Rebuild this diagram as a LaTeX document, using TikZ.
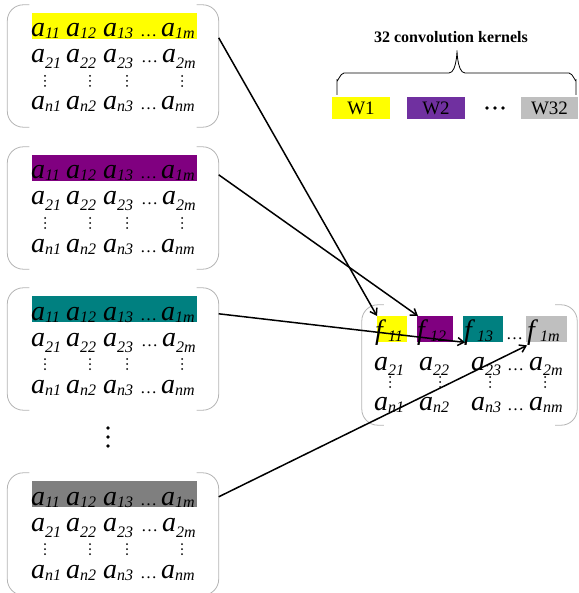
\documentclass[tikz,border=0pt]{standalone}
\usepackage{fontspec}
\setmainfont{Liberation Serif}
\usetikzlibrary{arrows.meta,calc}
\definecolor{cyel}{HTML}{FFFF00}
\definecolor{cpur}{HTML}{800080}
\definecolor{ctea}{HTML}{008080}
\definecolor{cgry}{HTML}{7F7F7F}
\definecolor{clgr}{HTML}{BFBFBF}
\definecolor{cwpu}{HTML}{7030A0}
\definecolor{cbrk}{HTML}{B4B4B4}
\newcommand{\mel}[3]{{\fontsize{28}{28}\selectfont\itshape #1}\raisebox{-#3}{\fontsize{16}{16}\selectfont\itshape #2}}
\newcommand{\hdots}{{\fontsize{17}{17}\selectfont\ldots}}
\begin{document}
\begin{tikzpicture}[x=1pt,y=-1pt,
  boxnode/.style={rectangle, inner sep=0pt, minimum width=211pt, minimum height=122pt},
  hl/.style={rectangle, inner sep=0pt, minimum width=165pt, minimum height=26pt},
  ent/.style={anchor=base west, inner sep=0pt, outer sep=0pt},
  brk/.style={draw=cbrk, line width=0.8pt, rounded corners=16pt},
  vdot/.style={circle, fill=black, inner sep=0pt, minimum size=2pt},
  conn/.style={draw, line width=1.5pt, -{Straight Barb[length=6pt,width=8pt]}},
  kbox/.style={rectangle, inner sep=0pt, minimum width=58pt, minimum height=22pt, font=\fontsize{19}{19}\selectfont},
  fbox/.style={rectangle, inner sep=0pt, minimum height=26pt, anchor=north west}]
\useasboundingbox (0,0) rectangle (578,593);

% left matrices
\foreach \T/\C/\n in {5/cyel/1,147/cpur/2,288/ctea/3,473/cgry/4}{
  \node[boxnode] (m\n) at (113,\T+61) {};
  \draw[brk] ([xshift=22pt]m\n.north west) -- (m\n.north west) -- (m\n.south west) -- ([xshift=22pt]m\n.south west);
  \draw[brk] ([xshift=-22pt]m\n.north east) -- (m\n.north east) -- (m\n.south east) -- ([xshift=-22pt]m\n.south east);
  \node[hl, fill=\C] (h\n) at (114.5,\T+21) {};
  % row 1
  \node[ent] (a\n-11) at (31,\T+32) {\mel{a}{11}{2pt}};
  \node[ent] (a\n-12) at (66,\T+32) {\mel{a}{12}{2pt}};
  \node[ent] (a\n-13) at (103,\T+32) {\mel{a}{13}{2pt}};
  \node[ent] (d\n-1) at (140,\T+32) {\hdots};
  \node[ent] (a\n-1m) at (161,\T+32) {\mel{a}{1m}{2pt}};
  % row 2
  \node[ent] (a\n-21) at (31,\T+58) {\mel{a}{21}{6pt}};
  \node[ent] (a\n-22) at (66,\T+58) {\mel{a}{22}{6pt}};
  \node[ent] (a\n-23) at (103,\T+58) {\mel{a}{23}{6pt}};
  \node[ent] (d\n-2) at (141,\T+58) {\hdots};
  \node[ent] (a\n-2m) at (162,\T+58) {\mel{a}{2m}{6pt}};
  % vertical dots
  \foreach \x/\k in {45/1,90/2,127/3,182/4}{
    \node[vdot] (v\n-\k a) at (\x,\T+71) {};
    \node[vdot] (v\n-\k b) at (\x,\T+76) {};
    \node[vdot] (v\n-\k c) at (\x,\T+81) {};
  }
  % row n
  \node[ent] (a\n-n1) at (31,\T+105) {\mel{a}{n1}{2pt}};
  \node[ent] (a\n-n2) at (66,\T+105) {\mel{a}{n2}{2pt}};
  \node[ent] (a\n-n3) at (103,\T+105) {\mel{a}{n3}{2pt}};
  \node[ent] (d\n-n) at (140,\T+105) {\hdots};
  \node[ent] (a\n-nm) at (161,\T+105) {\mel{a}{nm}{2pt}};
}

% big vertical dots between matrices
\node[circle, fill=black, inner sep=0pt, minimum size=3.8pt] (bd1) at (108,428) {};
\node[circle, fill=black, inner sep=0pt, minimum size=3.8pt] (bd2) at (108,437) {};
\node[circle, fill=black, inner sep=0pt, minimum size=3.8pt] (bd3) at (108,446) {};

% kernels
\node[font=\bfseries\fontsize{16}{16}\selectfont] (lab) at (451,37) {32 convolution kernels};
\draw[line width=0.8pt] (337,95) -- (337,80) to[out=-90,in=180] (344,73) -- (449,73)
  to[out=0,in=90] (457,52) to[out=90,in=180] (465,73) -- (569,73) to[out=0,in=-90] (576,80) -- (576,95);
\node[kbox, fill=cyel] (w1) at (361,108) {W1};
\node[kbox, fill=cwpu] (w2) at (436,108) {W2};
\node[circle, fill=black, inner sep=0pt, minimum size=3.6pt] (wd1) at (487,108) {};
\node[circle, fill=black, inner sep=0pt, minimum size=3.6pt] (wd2) at (495,108) {};
\node[circle, fill=black, inner sep=0pt, minimum size=3.6pt] (wd3) at (503,108) {};
\node[kbox, fill=clgr, minimum width=57pt] (w32) at (549.5,108) {W32};

% right feature map
\node[rectangle, inner sep=0pt, minimum width=215pt, minimum height=120pt] (R) at (469.5,365) {};
\draw[brk] ([xshift=22pt]R.north west) -- (R.north west) -- (R.south west) -- ([xshift=22pt]R.south west);
\draw[brk] ([xshift=-22pt]R.north east) -- (R.north east) -- (R.south east) -- ([xshift=-22pt]R.south east);
\node[fbox, fill=cyel, minimum width=30pt] (fb1) at (377,316) {};
\node[fbox, fill=cpur, minimum width=36pt] (fb2) at (417,316) {};
\node[fbox, fill=ctea, minimum width=40pt] (fb3) at (463,316) {};
\node[fbox, fill=clgr, minimum width=41pt] (fb4) at (526,316) {};
\node[ent] (f11) at (375,339) {\mel{f}{\,\,11}{2pt}};
\node[ent] (f12) at (417,339) {\mel{f}{\,\,12}{2pt}};
\node[ent] (f13) at (464,339) {\mel{f}{\,\,13}{2pt}};
\node[ent] (fd) at (506,339) {\hdots};
\node[ent] (f1m) at (527,339) {\mel{f}{\,\,1m}{2pt}};
\node[ent] (r21) at (374,370) {\mel{a}{21}{5pt}};
\node[ent] (r22) at (419,370) {\mel{a}{22}{5pt}};
\node[ent] (r23) at (471,370) {\mel{a}{23}{5pt}};
\node[ent] (rd2) at (507,370) {\hdots};
\node[ent] (r2m) at (529,370) {\mel{a}{2m}{5pt}};
\foreach \x/\k in {390/1,440/2,490/3,545/4}{
  \node[vdot] (rv\k a) at (\x,377) {};
  \node[vdot] (rv\k b) at (\x,382) {};
  \node[vdot] (rv\k c) at (\x,387) {};
}
\node[ent] (rn1) at (374,410) {\mel{a}{n1}{2pt}};
\node[ent] (rn2) at (419,410) {\mel{a}{n2}{2pt}};
\node[ent] (rn3) at (471,410) {\mel{a}{n3}{2pt}};
\node[ent] (rdn) at (507,410) {\hdots};
\node[ent] (rnm) at (529,410) {\mel{a}{nm}{2pt}};

% connectors
\draw[conn] ([yshift=-33pt]m1.north east) -- (fb1.north west);
\draw[conn] ([yshift=-28pt]m2.north east) -- ([xshift=1pt]fb2.north west);
\draw[conn] ([yshift=-26pt]m3.north east) -- ([xshift=2pt]fb3.south west);
\draw[conn] ([yshift=-24pt]m4.north east) -- ([xshift=1pt,yshift=-3pt]fb4.south west);
\end{tikzpicture}
\end{document}
